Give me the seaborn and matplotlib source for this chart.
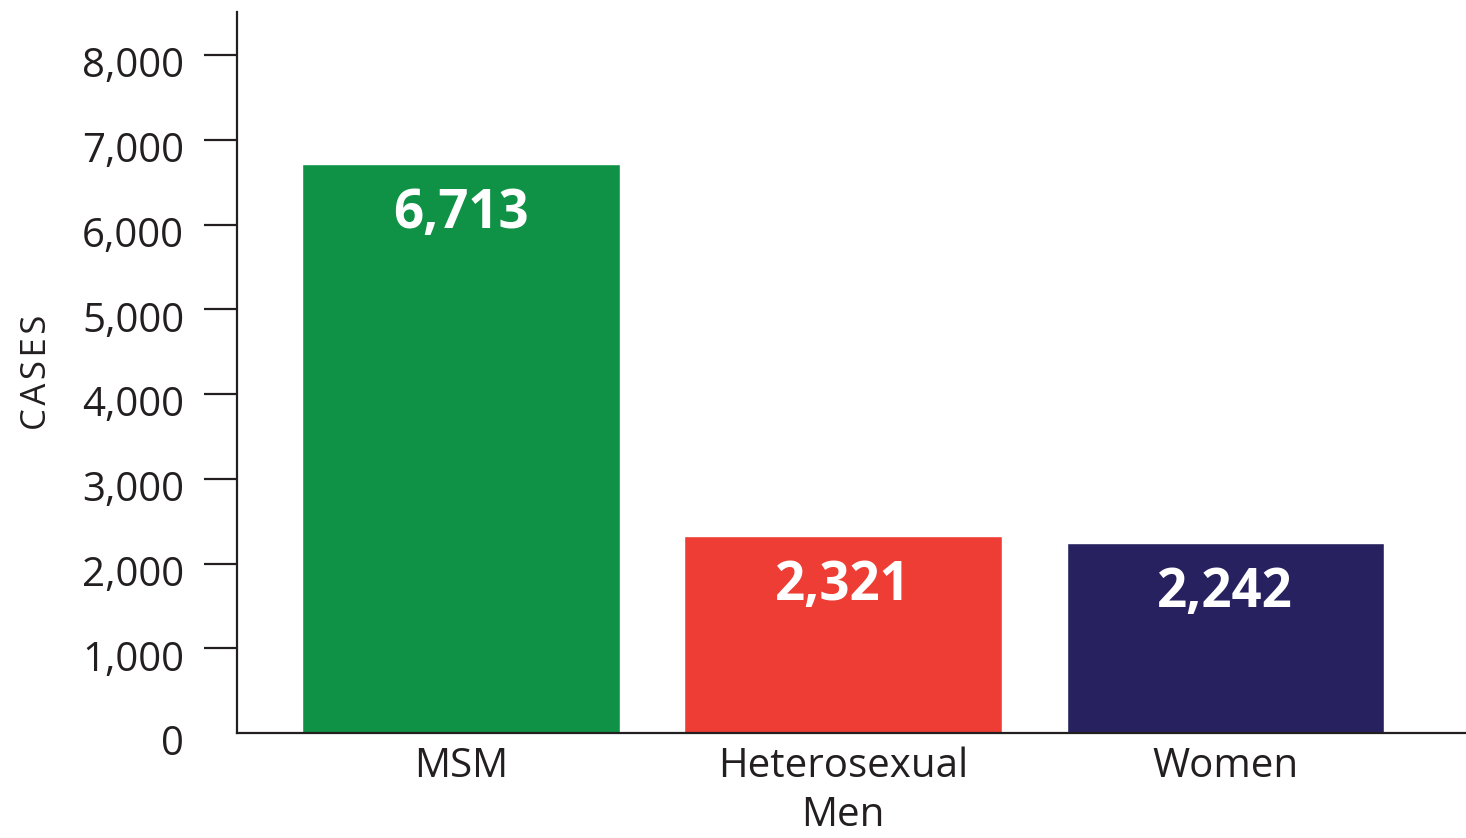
import matplotlib
matplotlib.use("Agg")
import matplotlib.pyplot as plt
import matplotlib.transforms as mtransforms
import seaborn as sns
import pandas as pd

categories = ["MSM", "Heterosexual\nMen", "Women"]
cases = [6713, 2321, 2242]
value_labels = ["6,713", "2,321", "2,242"]
bar_colors = ["#0F9245", "#EE3D34", "#27225F"]
yticks = [0, 1000, 2000, 3000, 4000, 5000, 6000, 7000, 8000]
ytick_labels = ["0", "1,000", "2,000", "3,000", "4,000", "5,000", "6,000", "7,000", "8,000"]

sns.set_style("white")
plt.rcParams["font.family"] = ["Open Sans", "DejaVu Sans"]

df = pd.DataFrame({"group": categories, "cases": cases})

fig = plt.figure(figsize=(14.66, 8.38), dpi=100)
ax = fig.add_axes([237 / 1466, 105 / 838, (1466 - 237) / 1466, (733 - 12) / 838])

sns.barplot(data=df, x="group", y="cases", hue="group", palette=bar_colors,
            width=0.83, legend=False, ax=ax, saturation=1)

ax.set_xlim(-0.586, 2.63)
ax.set_ylim(0, 8510)
ax.set_yticks(yticks)
ax.set_yticklabels(ytick_labels)

spine_color = "#231F20"
for side in ["top", "right"]:
    ax.spines[side].set_visible(False)
for side in ["left", "bottom"]:
    ax.spines[side].set_visible(True)
    ax.spines[side].set_color(spine_color)
    ax.spines[side].set_linewidth(1.6)

ax.tick_params(axis="y", which="major", left=True, length=24, width=1.6,
               color=spine_color, labelsize=29, labelcolor="#231F20", pad=14)
ax.tick_params(axis="x", which="major", bottom=False, labelsize=29,
               labelcolor="#231F20", pad=6)

# no tick mark at zero (only the baseline)
ax.yaxis.get_major_ticks()[0].tick1line.set_visible(False)

for lbl in ax.get_xticklabels():
    lbl.set_linespacing(1.28)

offset = mtransforms.ScaledTranslation(0, -7 / 100, fig.dpi_scale_trans)
for lbl in ax.get_yticklabels():
    lbl.set_transform(lbl.get_transform() + offset)

ax.set_xlabel("")
ax.set_ylabel("C A S E S".replace(" ", "\u200a"), fontsize=25, color="#231F20", labelpad=20)

for patch, txt in zip(ax.patches, value_labels):
    cx = patch.get_x() + patch.get_width() / 2
    top = patch.get_height()
    ax.annotate(txt, (cx, top), xytext=(0, -36), textcoords="offset points",
                ha="center", va="center", color="white", fontsize=38,
                fontweight="bold")

ax.grid(False)
fig.savefig("out.png", dpi=100, facecolor="white")
